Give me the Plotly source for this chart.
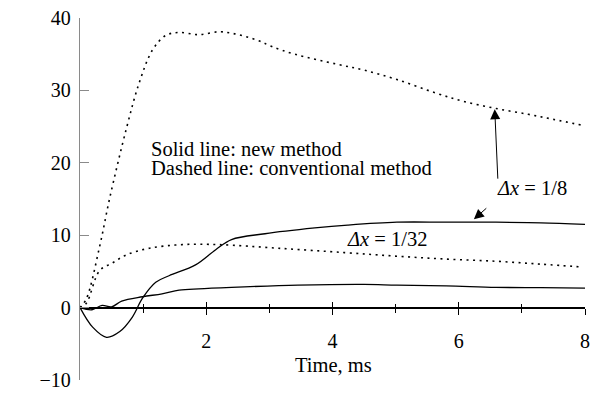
import plotly.graph_objects as go

# Δx = 1/8, conventional method (dashed)
t_c8 = [0, 0.1, 0.31, 0.47, 0.74, 0.94, 1.15, 1.36, 1.57, 1.88, 2.2, 2.4, 2.6, 2.82, 3.03, 3.4, 4.08, 4.5, 5.02, 5.65, 6.07, 6.59, 7.1, 7.5, 7.95]
v_c8 = [0, 1.2, 8.4, 15.1, 24.9, 31.1, 35.6, 37.6, 38.0, 37.7, 38.1, 37.9, 37.5, 36.9, 36.1, 35.0, 33.6, 32.8, 31.5, 29.6, 28.5, 27.5, 26.7, 26.0, 25.2]

# Δx = 1/32, conventional method (dashed)
t_c32 = [0, 0.1, 0.31, 0.52, 0.74, 1.1, 1.62, 2.2, 3.14, 4.19, 5.02, 5.8, 6.59, 7.3, 7.97]
v_c32 = [0, 0.6, 5.1, 6.2, 7.3, 8.2, 8.7, 8.7, 8.2, 7.6, 7.1, 6.7, 6.4, 6.0, 5.6]

# Δx = 1/8, new method (solid)
t_n8 = [0, 0.2, 0.42, 0.63, 0.83, 0.99, 1.2, 1.41, 1.83, 2.15, 2.4, 2.93, 3.72, 4.24, 5.02, 5.8, 6.59, 7.3, 8.0]
v_n8 = [0, -2.7, -4.1, -3.3, -1.3, 1.3, 3.5, 4.4, 5.9, 8.0, 9.4, 10.2, 11.0, 11.4, 11.8, 11.8, 11.8, 11.7, 11.5]

# Δx = 1/32, new method (solid)
t_n32 = [0, 0.19, 0.35, 0.5, 0.66, 0.99, 1.3, 1.57, 1.88, 2.4, 3.45, 4.5, 5.02, 5.8, 6.59, 7.3, 8.0]
v_n32 = [0, -0.3, 0.3, 0.1, 0.9, 1.5, 1.9, 2.4, 2.6, 2.8, 3.1, 3.2, 3.1, 3.0, 2.8, 2.75, 2.7]

x_ticks = [2, 4, 6, 8]
x_minor = [1, 3, 5, 7]
y_ticks = [-10, 0, 10, 20, 30, 40]

FONT = "Liberation Serif, Times New Roman, Times, serif"
dotted = "2px,4.5px"

fig = go.Figure()
fig.add_trace(go.Scatter(x=t_c8, y=v_c8, mode="lines", line=dict(color="black", width=1.6, dash=dotted, shape="spline")))
fig.add_trace(go.Scatter(x=t_c32, y=v_c32, mode="lines", line=dict(color="black", width=1.6, dash=dotted, shape="spline")))
fig.add_trace(go.Scatter(x=t_n8, y=v_n8, mode="lines", line=dict(color="black", width=1.3, shape="spline")))
fig.add_trace(go.Scatter(x=t_n32, y=v_n32, mode="lines", line=dict(color="black", width=1.3, shape="spline")))
# overlay axis to draw inward half of crossing ticks
fig.add_trace(go.Scatter(x=[0, 8], y=[0, 0], xaxis="x2", mode="lines", line=dict(color="black", width=1.3)))

fig.update_layout(
    width=597, height=398,
    margin=dict(l=80, r=7, t=13, b=11),
    plot_bgcolor="white", paper_bgcolor="white",
    showlegend=False,
    font=dict(family=FONT, size=20, color="black"),
    xaxis=dict(range=[0, 8], anchor="free", position=0.2, showline=True, linecolor="black", linewidth=1.3,
               showgrid=False, zeroline=False, tickvals=x_ticks, ticks="outside", ticklen=6, tickcolor="black",
               tickwidth=1, tickfont=dict(family=FONT, size=20), ticklabelstandoff=9,
               minor=dict(tickvals=x_minor, ticks="outside", ticklen=4, tickcolor="black", tickwidth=1)),
    xaxis2=dict(range=[0, 8], overlaying="x", anchor="free", position=0.2, showline=False, showgrid=False,
                zeroline=False, tickvals=x_ticks, ticks="inside", ticklen=6, tickcolor="black", tickwidth=1,
                showticklabels=False,
                minor=dict(tickvals=x_minor, ticks="inside", ticklen=4, tickcolor="black", tickwidth=1)),
    yaxis=dict(range=[-10, 40], showline=True, linecolor="#8a8a8a", linewidth=1.3, showgrid=False, zeroline=False,
               tickvals=y_ticks, ticks="inside", ticklen=9, tickcolor="#8a8a8a", tickwidth=1.3,
               tickfont=dict(family=FONT, size=20), ticklabelstandoff=4),
)

ann_font = dict(family=FONT, size=20.5, color="black")
fig.add_annotation(x=1.10, y=21.9, xref="x", yref="y", text="Solid line: new method", showarrow=False,
                   xanchor="left", yanchor="middle", font=ann_font)
fig.add_annotation(x=1.10, y=19.3, xref="x", yref="y", text="Dashed line: conventional method", showarrow=False,
                   xanchor="left", yanchor="middle", font=ann_font)
fig.add_annotation(x=6.57, y=16.5, xref="x", yref="y", text="<i>Δx</i> = 1/8", showarrow=False,
                   xanchor="left", yanchor="middle", font=ann_font)
fig.add_annotation(x=4.2, y=9.5, xref="x", yref="y", text="<i>Δx</i> = 1/32", showarrow=False,
                   xanchor="left", yanchor="middle", font=ann_font)
fig.add_annotation(x=4.02, y=-7.9, xref="x", yref="y", text="Time, ms", showarrow=False,
                   xanchor="center", yanchor="middle", font=ann_font)
fig.add_annotation(x=-0.93, y=17.5, xref="x", yref="y", text="<i>V</i> − <i>V</i><sub>exact</sub>, m/s",
                   showarrow=False, textangle=-90, xanchor="center", yanchor="middle", font=ann_font)
# arrows
fig.add_annotation(x=6.57, y=27.4, ax=6.62, ay=17.6, xref="x", yref="y", axref="x", ayref="y", text="",
                   showarrow=True, arrowhead=2, arrowsize=2, arrowwidth=1, arrowcolor="black")
fig.add_annotation(x=6.24, y=12.2, ax=6.46, ay=13.9, xref="x", yref="y", axref="x", ayref="y", text="",
                   showarrow=True, arrowhead=2, arrowsize=2, arrowwidth=1, arrowcolor="black")

fig.write_html("out.html")
